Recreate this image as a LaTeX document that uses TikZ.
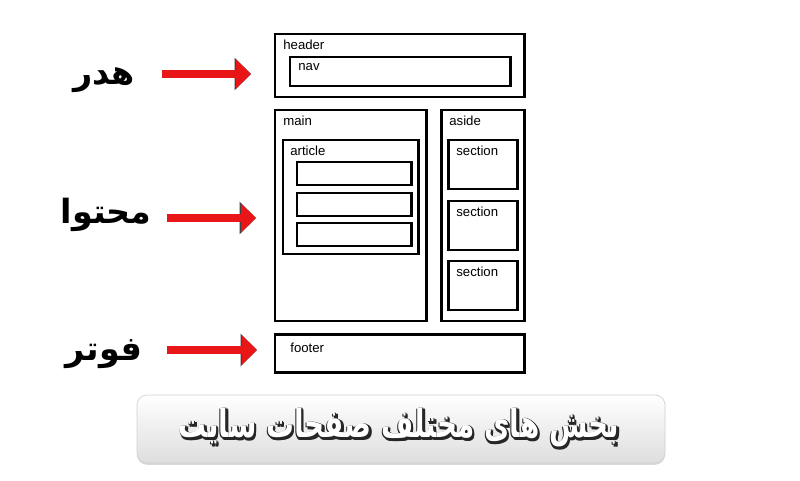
\documentclass[tikz,border=0pt]{standalone}
\usepackage{fontspec}
\setmainfont{Liberation Sans}
\newfontfamily\farsi[Script=Arabic]{DejaVu Sans}
\TeXXeTstate=1
\usetikzlibrary{arrows.meta,shadows}
\definecolor{arrred}{RGB}{232,22,22}
\newcommand\ttltext{\scalebox{0.72}[1]{\beginR بخش های مختلف صفحات سایت\endR}}

\tikzset{
  box/.style={line width=1.7pt},
  lbl/.style={anchor=west, inner sep=0pt, font=\fontsize{7.5}{9}\selectfont},
  redarr/.style={line width=4pt, arrred, -{Triangle[length=8.5pt,width=16pt]},
    preaction={draw=black!75, line width=5pt, -{Triangle[length=9.3pt,width=18pt]}}},
  fa/.style={inner sep=0pt, font=\farsi\bfseries\fontsize{19}{22}\selectfont},
  ttl/.style={inner sep=0pt, font=\farsi\bfseries\fontsize{22}{26}\selectfont},
}

\begin{document}
\begin{tikzpicture}[x=0.02cm,y=-0.02cm]
  \useasboundingbox (0,0) rectangle (800,480);
  % header
  \draw[box] (275,34) rectangle (524,97);
  \node[lbl] (header) at (283,45) {header};
  \draw[box] (290,57) rectangle (510,86);
  \node[lbl] (nav) at (298,67) {nav};
  % main
  \draw[box] (275,110) rectangle (426,321);
  \node[lbl] (main) at (283,121) {main};
  \draw[box] (283,140) rectangle (418,254);
  \node[lbl] (article) at (290,151) {article};
  \foreach \y in {162,193,223}
    \draw[box] (297,\y) rectangle (411,\y+23);
  % aside
  \draw[box] (441,110) rectangle (524,321);
  \node[lbl] (aside) at (449,121) {aside};
  \foreach \y/\n in {140/1,201/2,261/3} {
    \draw[box] (448,\y) rectangle (517,\y+49);
    \node[lbl] (sec\n) at (456,\y+11) {section};
  }
  % footer
  \draw[box] (275,334) rectangle (524,372);
  \node[lbl] (footer) at (290,348) {footer};

  % persian labels + arrows
  \node[fa] (hdr) at (104,80) {\beginR هدر\endR};
  \node[fa] (mht) at (106,215) {\beginR محتوا\endR};
  \node[fa] (ftr) at (104,354) {\beginR فوتر\endR};
  \coordinate (hdrA) at (162,74);  \coordinate (hdrB) at (251,74);
  \coordinate (mhtA) at (167,218); \coordinate (mhtB) at (256,218);
  \coordinate (ftrA) at (167,350); \coordinate (ftrB) at (257,350);
  \draw[redarr] (hdrA) -- (hdrB);
  \draw[redarr] (mhtA) -- (mhtB);
  \draw[redarr] (ftrA) -- (ftrB);

  % banner
  \draw[rounded corners=0.2cm, draw=black!18, top color=white, bottom color=black!13,
    drop shadow={opacity=0.3, shadow xshift=0pt, shadow yshift=-1pt}]
    (137,395) rectangle (665,463);
  \foreach \dx/\dy in {0.5/-0.5,1/-1,1.4/-1.4,1.4/-0.4,0.4/-1.4,-0.5/-0.5,0.5/0.5}
    \node[ttl, text=black!85, xshift=\dx pt, yshift=\dy pt] at (399,428) {\ttltext};
  \node[ttl, text=white] (title) at (399,428) {\ttltext};
\end{tikzpicture}
\end{document}
